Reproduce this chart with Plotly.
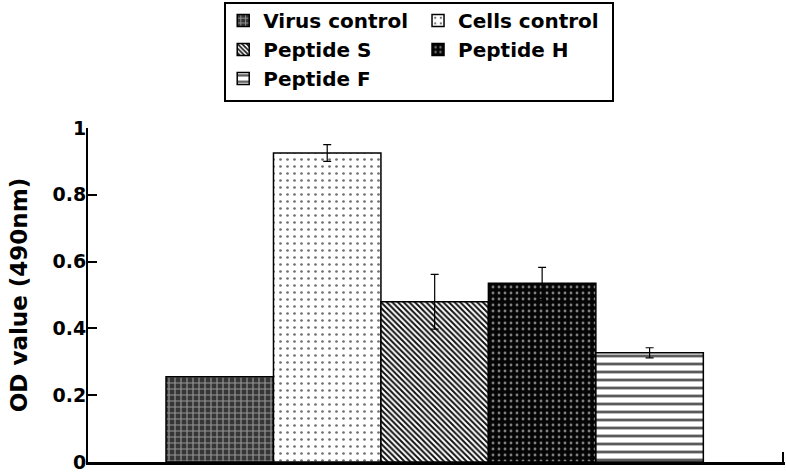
import plotly.graph_objects as go

# Data
groups = ["Virus control", "Cells control", "Peptide S", "Peptide H", "Peptide F"]
od_values = [0.255, 0.925, 0.48, 0.535, 0.327]
od_errors = [0.0, 0.025, 0.082, 0.048, 0.015]
ytick_vals = [0, 0.2, 0.4, 0.6, 0.8, 1]
ytick_text = ["0", "0.2", "0.4", "0.6", "0.8", "1"]

# Fill style per group: background, pattern colour, pattern shape, size, solidity
styles = {
    "Virus control": ("#363636", "#959595", "+", 6, 0.35),
    "Cells control": ("#ffffff", "#6f6f6f", ".", 7, 0.12),
    "Peptide S": ("#ffffff", "#111111", "\\", 4, 0.5),
    "Peptide H": ("#050505", "#808080", ".", 6, 0.18),
    "Peptide F": ("#ffffff", "#5a5a5a", "-", 8, 0.35),
}
legend_of = {
    "Virus control": "legend",
    "Cells control": "legend2",
    "Peptide S": "legend",
    "Peptide H": "legend2",
    "Peptide F": "legend",
}

FONT = "DejaVu Sans, sans-serif"

fig = go.Figure()
for i, name in enumerate(groups):
    bg, fg, shape, size, sol = styles[name]
    fig.add_trace(go.Bar(
        x=[i],
        y=[od_values[i]],
        width=1,
        name=name,
        legend=legend_of[name],
        marker=dict(
            color=bg,
            line=dict(color="black", width=1.5),
            pattern=dict(shape=shape, fgcolor=fg, bgcolor=bg, size=size,
                         solidity=sol, fillmode="replace"),
        ),
        error_y=dict(type="data", array=[od_errors[i]], visible=od_errors[i] > 0,
                     color="black", thickness=1.2, width=4),
    ))

legend_font = dict(family=FONT, size=20, color="black", weight="bold")

fig.update_layout(
    width=786,
    height=473,
    margin=dict(l=88, r=1, t=128, b=11, autoexpand=False),
    paper_bgcolor="white",
    plot_bgcolor="white",
    barmode="overlay",
    font=dict(family=FONT, size=19, color="black", weight="bold"),
    legend=dict(
        x=0.194, y=1.38, xanchor="left", yanchor="top",
        orientation="v", font=legend_font, bgcolor="rgba(0,0,0,0)",
        tracegroupgap=0, itemclick=False,
    ),
    legend2=dict(
        x=0.4735, y=1.38, xanchor="left", yanchor="top",
        orientation="v", font=legend_font, bgcolor="rgba(0,0,0,0)",
        tracegroupgap=0, itemclick=False,
    ),
    shapes=[dict(
        type="rect", xref="paper", yref="paper",
        x0=(225 - 88) / 697, x1=(613 - 88) / 697,
        y0=(462 - 101) / 334, y1=(462 - 3) / 334,
        line=dict(color="black", width=2), fillcolor="rgba(0,0,0,0)",
        layer="below",
    )],
)

fig.update_xaxes(
    range=[-1.226, 5.26],
    showline=True, linecolor="black", linewidth=2.5,
    showgrid=False, zeroline=False,
    tickvals=[5.245], ticks="inside", ticklen=10, tickwidth=2, tickcolor="black",
    showticklabels=False,
)
fig.update_yaxes(
    range=[0, 1],
    showline=True, linecolor="black", linewidth=2,
    showgrid=False, zeroline=False,
    tickvals=ytick_vals, ticktext=ytick_text,
    ticks="inside", ticklen=9, tickwidth=1.5, tickcolor="black",
    ticklabelstandoff=-4,
    tickfont=dict(family=FONT, size=19, color="black", weight="bold"),
    title=dict(text="OD value (490nm)", standoff=18,
               font=dict(family=FONT, size=23, color="black", weight="bold")),
)

# the page body has a default 8px margin; drop it so the figure sits at 0,0
fig.write_html("out.html", config={"displayModeBar": False},
               post_script="document.body.style.margin='0';")
